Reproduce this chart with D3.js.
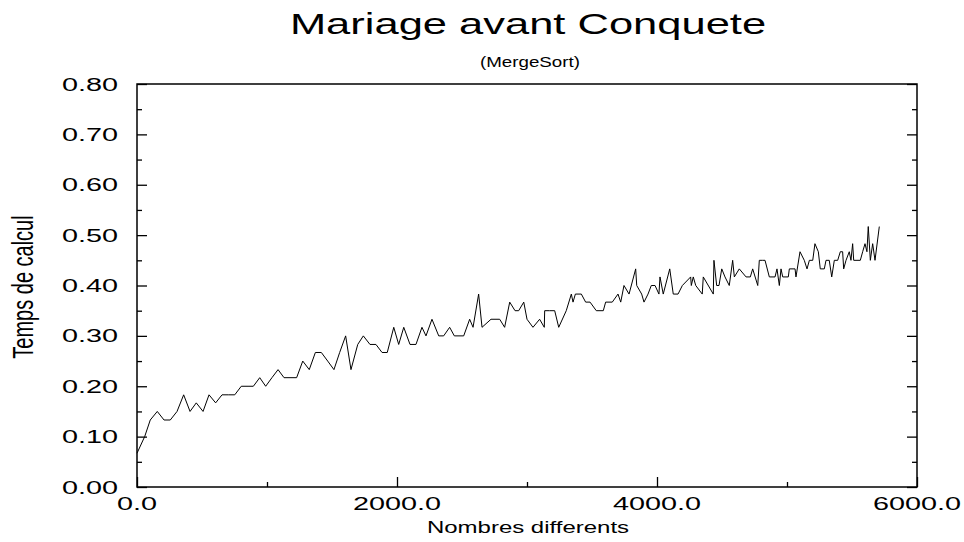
<!DOCTYPE html>
<html>
<head>
<meta charset="utf-8">
<script src="https://cdn.jsdelivr.net/npm/d3@7"></script>
<style>
  html, body { margin: 0; padding: 0; background: #fff; }
  text { font-family: "Liberation Sans", Arial, Helvetica, sans-serif; fill: #000; }
</style>
</head>
<body>
<svg id="chart" width="964" height="542"></svg>
<script>
// ---- data ----
const titleText = "Mariage avant Conquete";
const subtitleText = "(MergeSort)";
const xTitle = "Nombres differents";
const yTitle = "Temps de calcul";

const xMajorTicks = [0, 2000, 4000, 6000];
const xMinorTicks = [1000, 3000, 5000];
const xTickLabels = ["0.0", "2000.0", "4000.0", "6000.0"];
const yMajorTicks = [0, 0.1, 0.2, 0.3, 0.4, 0.5, 0.6, 0.7, 0.8];
const yMinorTicks = [0.05, 0.15, 0.25, 0.35, 0.45, 0.55, 0.65, 0.75];
const yTickLabels = ["0.00", "0.10", "0.20", "0.30", "0.40", "0.50", "0.60", "0.70", "0.80"];

const nombres = [
  0, 59, 102, 156, 208, 256, 308, 359, 408, 456,
  508, 554, 605, 654, 702, 752, 802, 854, 895, 944,
  990, 1038, 1085, 1131, 1177, 1228, 1275, 1325, 1372, 1418,
  1467, 1515, 1559, 1605, 1646, 1698, 1741, 1792, 1838, 1885,
  1925, 1975, 2013, 2052, 2100, 2146, 2192, 2223, 2269, 2321,
  2359, 2405, 2441, 2477, 2513, 2559, 2585, 2628, 2654, 2723,
  2790, 2828, 2867, 2908, 2936, 2975, 3000, 3046, 3097, 3133,
  3136, 3174, 3213, 3244, 3302, 3341, 3354, 3372, 3418, 3451,
  3485, 3533, 3587, 3605, 3656, 3700, 3721, 3746, 3785, 3836,
  3844, 3882, 3900, 3931, 3956, 3985, 4015, 4023, 4048, 4098,
  4125, 4162, 4195, 4259, 4264, 4279, 4298, 4348, 4356, 4433,
  4438, 4459, 4477, 4498, 4523, 4556, 4582, 4595, 4633, 4685,
  4718, 4736, 4775, 4787, 4813, 4831, 4864, 4908, 4923, 4941,
  4954, 4967, 5010, 5018, 5062, 5069, 5100, 5133, 5154, 5172,
  5198, 5215, 5241, 5256, 5287, 5300, 5325, 5344, 5364, 5390,
  5410, 5428, 5436, 5454, 5479, 5492, 5505, 5513, 5564, 5582,
  5600, 5615, 5625, 5641, 5659, 5677, 5710
];
const temps = [
  0.067, 0.100, 0.133, 0.150, 0.133, 0.133, 0.150, 0.183, 0.150, 0.167,
  0.150, 0.183, 0.167, 0.183, 0.183, 0.183, 0.200, 0.200, 0.200, 0.217,
  0.200, 0.217, 0.233, 0.217, 0.217, 0.217, 0.250, 0.233, 0.267, 0.267,
  0.250, 0.233, 0.267, 0.300, 0.233, 0.283, 0.300, 0.283, 0.283, 0.267,
  0.267, 0.317, 0.283, 0.317, 0.283, 0.283, 0.317, 0.300, 0.333, 0.300,
  0.300, 0.317, 0.300, 0.300, 0.300, 0.333, 0.317, 0.383, 0.317, 0.333,
  0.333, 0.317, 0.367, 0.350, 0.350, 0.367, 0.333, 0.317, 0.333, 0.317,
  0.350, 0.350, 0.350, 0.317, 0.350, 0.383, 0.367, 0.383, 0.383, 0.367,
  0.367, 0.350, 0.350, 0.367, 0.367, 0.383, 0.367, 0.400, 0.383, 0.433,
  0.400, 0.383, 0.367, 0.383, 0.400, 0.400, 0.383, 0.417, 0.383, 0.433,
  0.383, 0.383, 0.400, 0.417, 0.400, 0.417, 0.400, 0.383, 0.417, 0.383,
  0.450, 0.400, 0.400, 0.433, 0.417, 0.400, 0.450, 0.417, 0.433, 0.417,
  0.417, 0.433, 0.400, 0.450, 0.450, 0.450, 0.417, 0.417, 0.433, 0.400,
  0.433, 0.417, 0.417, 0.433, 0.433, 0.417, 0.467, 0.450, 0.433, 0.450,
  0.450, 0.483, 0.467, 0.433, 0.433, 0.450, 0.450, 0.417, 0.450, 0.450,
  0.467, 0.467, 0.433, 0.450, 0.467, 0.450, 0.483, 0.450, 0.450, 0.467,
  0.483, 0.467, 0.517, 0.450, 0.483, 0.450, 0.517
];

// ---- layout ----
const svg = d3.select("#chart");
const x = d3.scaleLinear().domain([0, 6000]).range([137, 917]);
const y = d3.scaleLinear().domain([0, 0.8]).range([487, 84]);

const pts = nombres.map((n, i) => [n, temps[i]]).filter(d => d[1] !== undefined);

function stretchedText(tx, ty, str, size, anchor, sx) {
  return svg.append("text")
    .attr("transform", `translate(${tx},${ty}) scale(${sx},1)`)
    .attr("text-anchor", anchor)
    .attr("font-size", size)
    .text(str);
}

// line
svg.append("path")
  .datum(pts)
  .attr("fill", "none")
  .attr("stroke", "#000")
  .attr("stroke-width", 1)
  .attr("stroke-linejoin", "miter")
  .attr("d", d3.line().x(d => x(d[0])).y(d => y(d[1])));

// frame
svg.append("rect")
  .attr("x", x(0)).attr("y", y(0.8))
  .attr("width", x(6000) - x(0)).attr("height", y(0) - y(0.8))
  .attr("fill", "none").attr("stroke", "#000").attr("stroke-width", 1.5);

// ticks via axes (inward)
function tickAxis(axisGen, transform, values, size) {
  const g = svg.append("g").attr("transform", transform)
    .call(axisGen.tickValues(values).tickSizeInner(-size).tickSizeOuter(0).tickFormat(""));
  g.select(".domain").remove();
  g.selectAll("line").attr("stroke", "#000").attr("stroke-width", 1.3);
}
tickAxis(d3.axisBottom(x), `translate(0,${y(0)})`, xMajorTicks, 10);
tickAxis(d3.axisBottom(x), `translate(0,${y(0)})`, xMinorTicks, 5);
tickAxis(d3.axisLeft(y), `translate(${x(0)},0)`, yMajorTicks, 10);
tickAxis(d3.axisLeft(y), `translate(${x(0)},0)`, yMinorTicks, 5);
tickAxis(d3.axisRight(y), `translate(${x(6000)},0)`, yMajorTicks, 10);
tickAxis(d3.axisRight(y), `translate(${x(6000)},0)`, yMinorTicks, 5);

// tick labels
yMajorTicks.forEach((v, i) => {
  stretchedText(118, y(v) + 6.5, yTickLabels[i], 18, "end", 1.6);
});
xMajorTicks.forEach((v, i) => {
  stretchedText(x(v), 510, xTickLabels[i], 18, "middle", 1.6);
});

// titles
stretchedText(528, 34, titleText, 29, "middle", 1.5);
stretchedText(530, 67, subtitleText, 15, "middle", 1.25);
stretchedText(528, 533, xTitle, 16, "middle", 1.5);
svg.append("text")
  .attr("transform", `translate(33,287) scale(1.5,1) rotate(-90)`)
  .attr("text-anchor", "middle")
  .attr("font-size", 20)
  .text(yTitle);
</script>
</body>
</html>
